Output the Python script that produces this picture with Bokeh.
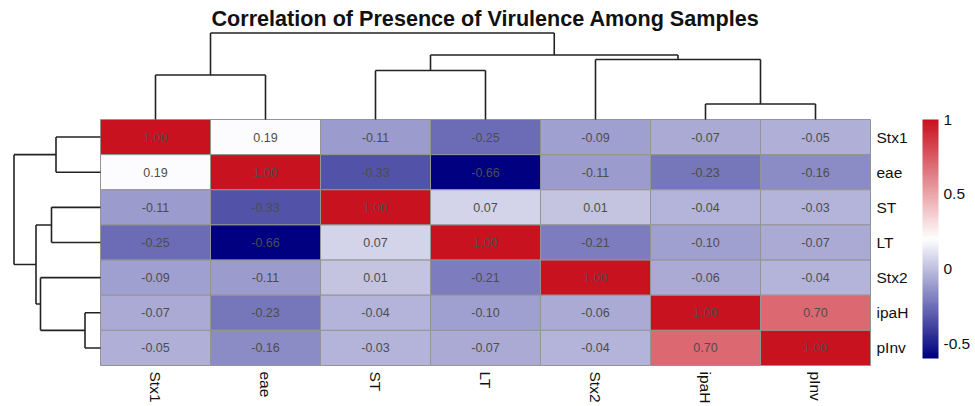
import numpy as np
from bokeh.plotting import figure
from bokeh.models import (ColumnDataSource, LinearColorMapper, ColorBar, Range1d, Label,
                          FixedTicker, CustomJSTickFormatter)
from bokeh.transform import transform
from bokeh.embed import file_html
from bokeh.resources import INLINE
from bokeh.core.properties import value

# ---------------- data ----------------
genes = ["Stx1", "eae", "ST", "LT", "Stx2", "ipaH", "pInv"]
corr_stx1 = [1.00, 0.19, -0.11, -0.25, -0.09, -0.07, -0.05]
corr_eae = [0.19, 1.00, -0.33, -0.66, -0.11, -0.23, -0.16]
corr_st = [-0.11, -0.33, 1.00, 0.07, 0.01, -0.04, -0.03]
corr_lt = [-0.25, -0.66, 0.07, 1.00, -0.21, -0.10, -0.07]
corr_stx2 = [-0.09, -0.11, 0.01, -0.21, 1.00, -0.06, -0.04]
corr_ipah = [-0.07, -0.23, -0.04, -0.10, -0.06, 1.00, 0.70]
corr_pinv = [-0.05, -0.16, -0.03, -0.07, -0.04, 0.70, 1.00]
corr = [corr_stx1, corr_eae, corr_st, corr_lt, corr_stx2, corr_ipah, corr_pinv]

# hierarchical clustering (same tree for rows and columns); leaves 0..6, new nodes 7..
merge_left = [5, 0, 2, 4, 9, 8]
merge_right = [6, 1, 3, 7, 10, 11]
merge_height = [0.31, 0.89, 0.98, 1.20, 1.29, 1.73]

title_text = "Correlation of Presence of Virulence Among Samples"
colorbar_ticks = [-0.5, 0, 0.5, 1]
scale_low, scale_high = -0.60, 1.00

# ---------------- layout constants (pixels) ----------------
W, H = 975, 406
HM_LEFT, HM_TOP = 100, 119
CELL_W = 110.0
CELL_H = 246.0 / 7
TREE_PX = 86.5  # pixel length of the tallest merge

n = len(genes)


def ramp(stops, k):
    stops = np.array(stops, dtype=float)
    t = np.linspace(0, 1, k)
    seg = np.linspace(0, 1, len(stops))
    out = []
    for tt in t:
        rgb = [np.interp(tt, seg, stops[:, c]) for c in range(3)]
        out.append("#%02x%02x%02x" % tuple(int(round(v)) for v in rgb))
    return out


palette = ramp([(0, 0, 128), (255, 255, 255), (200, 18, 32)], 100)
mapper = LinearColorMapper(palette=palette, low=scale_low, high=scale_high)

p = figure(width=W, height=H,
           x_range=Range1d(-HM_LEFT / CELL_W, (W - HM_LEFT) / CELL_W),
           y_range=Range1d((H - HM_TOP) / CELL_H, -HM_TOP / CELL_H),
           x_axis_location=None, y_axis_location=None,
           toolbar_location=None, output_backend="svg", min_border=0)
p.grid.visible = False
p.outline_line_color = None
p.background_fill_color = "white"

# ---------------- heatmap ----------------
xs, ys, vals, labs = [], [], [], []
for r in range(n):
    for c in range(n):
        xs.append(c + 0.5)
        ys.append(r + 0.5)
        vals.append(corr[r][c])
        labs.append("%.2f" % corr[r][c])
src = ColumnDataSource(dict(x=xs, y=ys, v=vals, lab=labs))
p.rect(x="x", y="y", width=1, height=1, source=src,
       fill_color=transform("v", mapper), line_color="#949494", line_width=1)
p.text(x="x", y="y", text="lab", source=src, text_align="center", text_baseline="middle",
       text_color="#4d4d4d", text_font_size="12.5px", text_font=value("Liberation Sans"))

# row labels (right) and column labels (below, rotated)
centers = [i + 0.5 for i in range(n)]
p.text(x=[n + 6 / CELL_W] * n, y=centers, text=genes, text_align="left",
       text_baseline="middle", text_color="#111111", text_font_size="15.5px",
       text_font=value("Liberation Sans"))
p.text(x=centers, y=[n + 6 / CELL_H] * n, text=genes, angle=-np.pi / 2,
       text_align="left", text_baseline="middle", text_color="#111111",
       text_font_size="15.5px", text_font=value("Liberation Sans"))

# ---------------- dendrograms ----------------
pos = {i: i + 0.5 for i in range(n)}
hgt = {i: 0.0 for i in range(n)}
segs = []
for k, (a, b, h) in enumerate(zip(merge_left, merge_right, merge_height)):
    segs.append((pos[a], hgt[a], pos[a], h))
    segs.append((pos[b], hgt[b], pos[b], h))
    segs.append((pos[a], h, pos[b], h))
    pos[n + k] = (pos[a] + pos[b]) / 2
    hgt[n + k] = h

hmax = max(merge_height)
ky = TREE_PX / hmax / CELL_H
kx = TREE_PX / hmax / CELL_W
# column tree (top)
p.segment(x0=[s[0] for s in segs], y0=[-s[1] * ky for s in segs],
          x1=[s[2] for s in segs], y1=[-s[3] * ky for s in segs],
          line_color="#222222", line_width=1.6)
# row tree (left)
p.segment(x0=[-s[1] * kx for s in segs], y0=[s[0] for s in segs],
          x1=[-s[3] * kx for s in segs], y1=[s[2] for s in segs],
          line_color="#222222", line_width=1.6)

# ---------------- title ----------------
p.add_layout(Label(x=n / 2, y=-(TREE_PX + 14.5) / CELL_H, text=title_text,
                   text_align="center", text_baseline="middle",
                   text_font="Liberation Sans", text_font_style="bold",
                   text_font_size="21.6px", text_color="#111111"))

# ---------------- color bar ----------------
cb = ColorBar(color_mapper=mapper, location=(922, H - 358), width=16, height=239,
              padding=0, ticker=FixedTicker(ticks=colorbar_ticks),
              formatter=CustomJSTickFormatter(code="return tick.toString()"),
              major_tick_line_color=None, label_standoff=5,
              major_label_text_font_size="15.5px", major_label_text_font="Liberation Sans",
              major_label_text_color="#111111", bar_line_color=None,
              border_line_color=None, background_fill_alpha=0)
p.add_layout(cb)

open("out.html", "w").write(file_html(p, INLINE))
